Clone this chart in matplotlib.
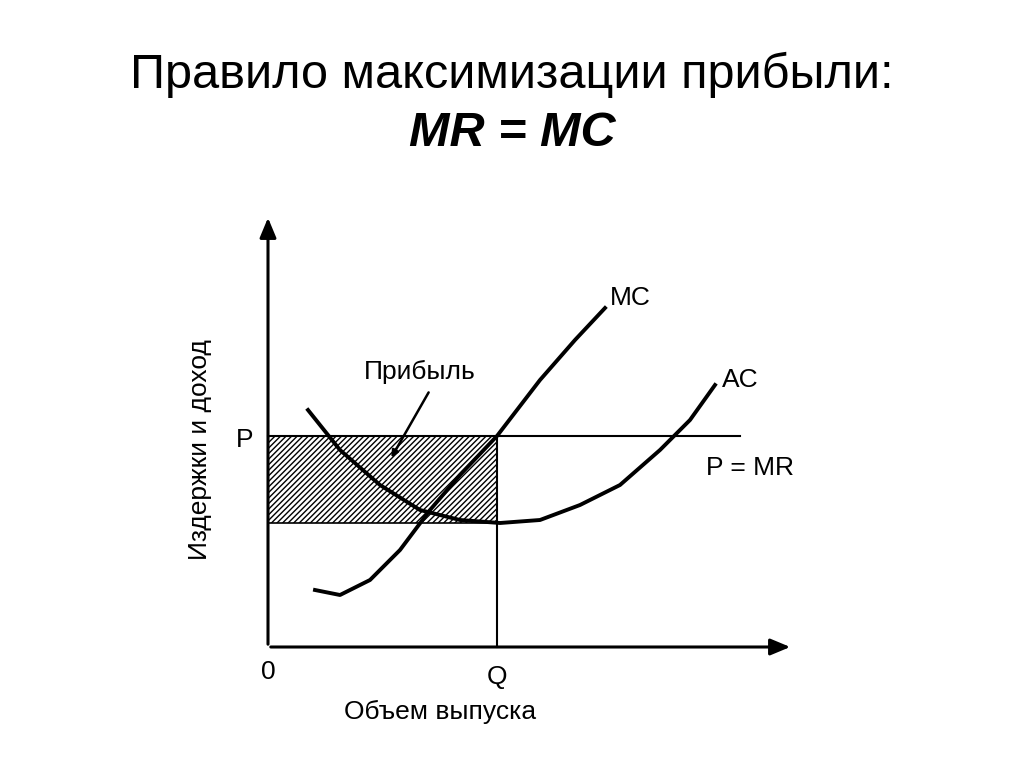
import matplotlib
matplotlib.use("Agg")
import matplotlib.pyplot as plt
from matplotlib.patches import Rectangle

plt.rcParams['font.family'] = ['Liberation Sans', 'DejaVu Sans']

# data (relative units: quantity, cost/revenue)
mc_q = [47, 72, 102, 132, 162, 192, 229, 272, 307, 337]
mc_c = [57, 52, 67, 97, 137, 172, 211, 267, 307, 339]
ac_q = [40, 72, 112, 152, 192, 232, 272, 312, 352, 392, 422, 447]
ac_c = [237, 197, 162, 137, 127, 124, 127, 142, 162, 197, 227, 262]
P = 211
Q = 229
AC_at_Q = 124
pmr_end = 472

fig = plt.figure(figsize=(10.24, 7.67), dpi=100)
ax = fig.add_axes([0, 0, 1, 1])
ax.set_xlim(-268, 1024 - 268)
ax.set_ylim(-(767 - 647), 647)
ax.axis("off")

lw = 2.2
ax.annotate("", xy=(0, 432), xytext=(0, 0),
            arrowprops=dict(arrowstyle="-|>,head_width=0.5,head_length=1.2", lw=lw, color="black"))
ax.annotate("", xy=(525, 0), xytext=(0, 0),
            arrowprops=dict(arrowstyle="-|>,head_width=0.5,head_length=1.2", lw=lw, color="black"))

ax.add_patch(Rectangle((0, AC_at_Q), Q, P - AC_at_Q, facecolor="white",
                       edgecolor="black", hatch="//////", lw=1.2))
ax.plot([0, pmr_end], [P, P], color="black", lw=1.5)
ax.plot([Q, Q], [0, P], color="black", lw=1.5)
ax.plot(mc_q, mc_c, color="black", lw=2.8, solid_joinstyle="round")
ax.plot(ac_q, ac_c, color="black", lw=2.8, solid_joinstyle="round")

fs = 19
ax.text(362, 349, "MC", fontsize=fs, ha="center", va="center")
ax.text(472, 267, "AC", fontsize=fs, ha="center", va="center")
ax.text(482, 179, "P = MR", fontsize=fs, ha="center", va="center")
ax.text(-23, 207, "P", fontsize=fs, ha="center", va="center")
ax.text(0, -25, "0", fontsize=fs, ha="center", va="center")
ax.text(229, -30, "Q", fontsize=fs, ha="center", va="center")
ax.text(152, 275, "Прибыль", fontsize=fs, ha="center", va="center")
ax.annotate("", xy=(122, 187), xytext=(162, 257),
            arrowprops=dict(arrowstyle="-|>", lw=1.8, color="black"))
ax.text(-68, 197, "Издержки и доход", fontsize=fs, rotation=90, ha="center", va="center")
ax.text(172, -65, "Объем выпуска", fontsize=fs, ha="center", va="center")

ax.text(244, 572, "Правило максимизации прибыли:", fontsize=35, ha="center", va="center")
ax.text(244, 514, "MR = MC", fontsize=35, ha="center", va="center",
        fontweight="bold", style="italic")

fig.savefig("out.png", dpi=100, facecolor="white")
